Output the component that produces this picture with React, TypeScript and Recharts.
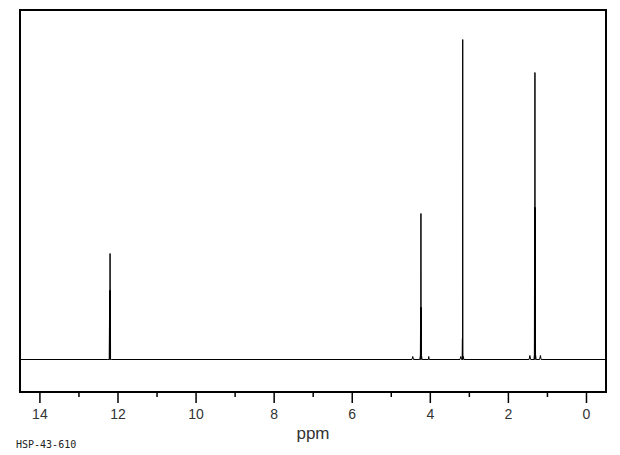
import { LineChart, Line, XAxis, YAxis, ReferenceArea } from 'recharts';

// [ppm, intensity] points (intensity in px above baseline)
const baselineStart = [[14.51, 0], [12.26, 0]];
const acidPeak = [[12.225, 0], [12.212, 69], [12.207, 0], [12.203, 106], [12.199, 0], [12.195, 69], [12.19, 0], [12.17, 0]];
const quartetRegion = [
  [4.47, 0], [4.45, 3], [4.43, 0], [4.27, 0], [4.255, 4], [4.248, 52], [4.244, 0], [4.24, 146],
  [4.236, 0], [4.232, 52], [4.226, 4], [4.21, 0], [4.05, 0], [4.04, 3], [4.03, 0],
];
const singletRegion = [
  [3.24, 0], [3.22, 3], [3.2, 0], [3.185, 0], [3.178, 21], [3.174, 0], [3.17, 320], [3.166, 0],
  [3.155, 3], [3.14, 0],
];
const tripletRegion = [
  [1.47, 0], [1.45, 4], [1.43, 0], [1.345, 0], [1.335, 5], [1.328, 152], [1.324, 0], [1.32, 287],
  [1.316, 0], [1.312, 152], [1.305, 5], [1.29, 0], [1.2, 0], [1.18, 4], [1.16, 0],
];
const baselineEnd = [[-0.5, 0]];

const ppmDomain = [-0.5, 14.51];
const intensityDomain = [-32.5, 349.5];
const ppmTicks = [14, 13, 12, 11, 10, 9, 8, 7, 6, 5, 4, 3, 2, 1, 0];
const sampleId = 'HSP-43-610';

const spectrum = [...baselineStart, ...acidPeak, ...quartetRegion, ...singletRegion, ...tripletRegion, ...baselineEnd]
  .map(([ppm, intensity]) => ({ ppm, intensity }));

const PpmTick = ({ x, y, payload }: any) => {
  const v = payload.value;
  const major = v % 2 === 0;
  return (
    <g>
      <line x1={x} x2={x} y1={y} y2={y + (major ? 11 : 5)} stroke="#000" strokeWidth={1.5} />
      {major && (
        <text x={x} y={y + 27} textAnchor="middle" fontSize={14} fill="#333" fontFamily="Liberation Sans, sans-serif">
          {v}
        </text>
      )}
    </g>
  );
};

export default function App() {
  return (
    <div style={{ position: 'absolute', left: 0, top: 0, width: 620, height: 455, background: '#fff' }}>
      <LineChart width={620} height={455} data={spectrum} margin={{ top: 10, right: 14, bottom: 5, left: 20 }}>
        <XAxis
          dataKey="ppm"
          type="number"
          domain={ppmDomain}
          reversed
          allowDataOverflow
          ticks={ppmTicks}
          interval={0}
          tick={<PpmTick />}
          tickLine={false}
          tickSize={0}
          tickMargin={0}
          height={58}
          axisLine={false}
          label={{ value: 'ppm', position: 'insideBottom', offset: 11, fontSize: 17, fill: '#333', fontFamily: 'Liberation Sans, sans-serif' }}
        />
        <YAxis type="number" domain={intensityDomain} allowDataOverflow hide width={0} />
        {/* frame around the plot area */}
        <ReferenceArea
          x1={ppmDomain[1]}
          x2={ppmDomain[0]}
          y1={intensityDomain[0]}
          y2={intensityDomain[1]}
          fill="none"
          stroke="#000"
          strokeWidth={2}
          ifOverflow="visible"
        />
        <Line
          dataKey="intensity"
          type="linear"
          stroke="#000"
          strokeWidth={1}
          dot={false}
          isAnimationActive={false}
        />
      </LineChart>
      <div
        style={{
          position: 'absolute',
          left: 16,
          top: 440,
          fontFamily: 'DejaVu Sans Mono, monospace',
          fontSize: 10,
          lineHeight: '10px',
          color: '#222',
        }}
      >
        {sampleId}
      </div>
    </div>
  );
}
